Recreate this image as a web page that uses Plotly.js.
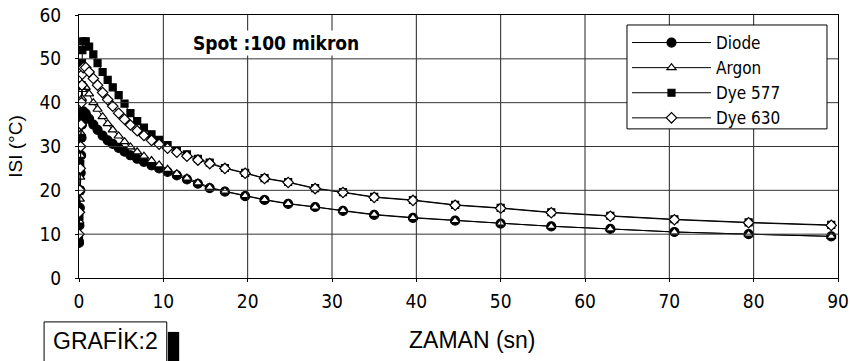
<!DOCTYPE html>
<html>
<head>
<meta charset="utf-8">
<script src="https://cdn.plot.ly/plotly-3.0.1.min.js"></script>
<style>html,body{margin:0;padding:0;background:#fff;}#chart{width:850px;height:361px;}</style>
</head>
<body>
<div id="chart"></div>
<script>
// time (s)
var zaman = [0, 0.05, 0.1, 0.15, 0.2, 0.25, 0.3, 0.35, 0.4, 0.5, 0.8, 1.2, 1.7, 2.2, 2.8, 3.4, 4.0, 4.7, 5.4, 6.1, 6.9, 7.7, 8.6, 9.5, 10.5, 11.6, 12.8, 14.1, 15.5, 17.3, 19.7, 22.0, 24.8, 28.0, 31.3, 35.0, 39.6, 44.6, 50.0, 56.0, 63.0, 70.6, 79.4, 89.2];

var diode = [8, 12, 16, 20, 24, 28, 32, 35, 37, 38, 37.5, 36.3, 35, 33.8, 32.5, 31.4, 30.6, 29.7, 28.8, 28.0, 27.2, 26.5, 25.7, 25.0, 24.2, 23.4, 22.5, 21.5, 20.5, 19.7, 18.7, 17.8, 16.9, 16.2, 15.3, 14.4, 13.7, 13.1, 12.4, 11.8, 11.2, 10.5, 10.0, 9.5];

var argon = [9, 13, 18, 23, 28, 33, 38, 41, 43, 44, 43.5, 42, 40, 38.5, 36.8, 35.2, 33.8, 32.4, 31.1, 29.9, 28.8, 27.8, 26.8, 25.8, 24.8, 23.8, 22.8, 21.7, 20.7, 19.8, 18.8, 17.9, 17.0, 16.2, 15.4, 14.5, 13.8, 13.1, 12.5, 11.8, 11.2, 10.5, 10.0, 9.5];

var dye577 = [9, 14, 20, 26, 32, 38, 44, 49, 52, 54, 54, 52.8, 51, 49, 47, 45.2, 43.5, 41.7, 39.8, 37.6, 35.8, 34.3, 32.8, 31.5, 30.3, 29.2, 28.2, 27.2, 26.3, 25.1, 24.0, 22.8, 21.9, 20.5, 19.6, 18.5, 17.8, 16.7, 16.0, 15.0, 14.2, 13.4, 12.7, 12.1];

var dye630 = [10, 15, 20, 25, 30, 35, 40, 44, 46.5, 48, 48, 47, 45.5, 44, 42.3, 40.7, 39.2, 37.6, 36.2, 34.9, 33.6, 32.5, 31.4, 30.5, 29.6, 28.7, 27.8, 26.9, 26.1, 25.0, 23.9, 22.7, 21.8, 20.4, 19.5, 18.4, 17.7, 16.6, 15.9, 14.9, 14.1, 13.3, 12.6, 12.0];

var seriesNames = ["Diode", "Argon", "Dye 577", "Dye 630"];
var xTicks = [0, 10, 20, 30, 40, 50, 60, 70, 80, 90];
var yTicks = [0, 10, 20, 30, 40, 50, 60];

var narrow = '"DejaVu Sans Condensed", "Liberation Sans Narrow", "Arial Narrow", sans-serif';
var sans = '"Liberation Sans", Arial, sans-serif';

var xMin = xTicks[0], xMax = xTicks[xTicks.length - 1];
var yMin = yTicks[0], yMax = yTicks[yTicks.length - 1];

function tr(name, y, symbol, size, fill) {
  return {
    x: zaman, y: y, name: name, type: 'scatter', mode: 'lines+markers',
    line: {color: '#000', width: 1},
    marker: {symbol: symbol, size: size, color: fill, line: {color: '#000', width: 1.2}}
  };
}

var data = [
  tr(seriesNames[0], diode, 'circle', 9, '#000'),
  tr(seriesNames[1], argon, 'triangle-up', 8, '#fff'),
  tr(seriesNames[2], dye577, 'square', 7, '#000'),
  tr(seriesNames[3], dye630, 'diamond', 8, '#fff')
];

var axisCommon = {
  tickmode: 'array',
  showgrid: false,
  showline: true, linecolor: '#000', linewidth: 1, mirror: true,
  zeroline: false, ticks: 'outside', ticklen: 3, tickcolor: '#000',
  tickfont: {family: narrow, size: 19, color: '#000'}
};

var shapes = [];
// grid lines placed through the axis scales from the tick arrays
xTicks.slice(1, -1).forEach(function (t) {
  shapes.push({type: 'line', xref: 'x', yref: 'paper', x0: t, x1: t, y0: 0, y1: 1,
    line: {color: '#222', width: 1}, layer: 'above'});
});
yTicks.slice(1, -1).forEach(function (t) {
  shapes.push({type: 'line', xref: 'paper', yref: 'y', x0: 0, x1: 1, y0: t, y1: t,
    line: {color: '#333', width: 1}, layer: 'above'});
});
// legend frame
shapes.push({type: 'rect', xref: 'paper', yref: 'paper', x0: 0.722, x1: 0.9855, y0: 0.567, y1: 0.962,
  fillcolor: '#fff', line: {color: '#000', width: 1}});
// GRAFİK:2 label box and black bar
shapes.push({type: 'rect', xref: 'paper', yref: 'paper', x0: -0.046, x1: 0.1156, y0: -0.34, y1: -0.167,
  fillcolor: '#fff', line: {color: '#000', width: 1}});
shapes.push({type: 'rect', xref: 'paper', yref: 'paper', x0: 0.117, x1: 0.132, y0: -0.34, y1: -0.205,
  fillcolor: '#000', line: {width: 0}});

var layout = {
  width: 850, height: 361,
  margin: {l: 79, r: 12, t: 15, b: 83},
  paper_bgcolor: '#fff', plot_bgcolor: '#fff',
  showlegend: true,
  legend: {
    x: 0.722, y: 0.962, xanchor: 'left', yanchor: 'top',
    bgcolor: 'rgba(0,0,0,0)', borderwidth: 0,
    font: {family: narrow, size: 17, color: '#000'},
    itemwidth: 79
  },
  xaxis: Object.assign({}, axisCommon, {range: [xMin, xMax], tickvals: xTicks, ticklabelstandoff: 3}),
  yaxis: Object.assign({}, axisCommon, {range: [yMin, yMax], tickvals: yTicks, ticklabelstandoff: 10}),
  annotations: [
    {text: '<b>Spot :100 mikron</b>', xref: 'paper', yref: 'paper', x: 0.26, y: 0.893,
     xanchor: 'center', yanchor: 'middle', bgcolor: '#fff',
     showarrow: false, font: {family: narrow, size: 19, color: '#000'}},
    {text: 'ZAMAN (sn)', xref: 'paper', yref: 'paper', x: 0.518, y: -0.236,
     xanchor: 'center', yanchor: 'middle',
     showarrow: false, font: {family: sans, size: 23, color: '#000'}},
    {text: 'ISI (°C)', xref: 'paper', yref: 'paper', x: -0.084, y: 0.5, textangle: -90,
     xanchor: 'center', yanchor: 'middle',
     showarrow: false, font: {family: sans, size: 19, color: '#000'}},
    {text: 'GRAFİK:2', xref: 'paper', yref: 'paper', x: 0.0348, y: -0.2395,
     xanchor: 'center', yanchor: 'middle',
     showarrow: false, font: {family: sans, size: 23, color: '#000'}}
  ],
  shapes: shapes
};

Plotly.newPlot('chart', data, layout, {displayModeBar: false, staticPlot: true});
</script>
</body>
</html>
